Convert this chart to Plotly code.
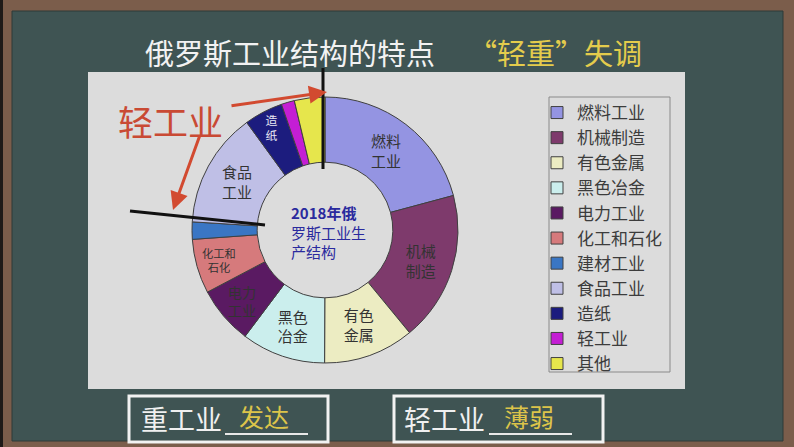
import plotly.graph_objects as go

W, H = 794, 447
FONT = "Noto Sans CJK SC"

categories = ["燃料工业", "机械制造", "有色金属", "黑色冶金", "电力工业", "化工和石化",
              "建材工业", "食品工业", "造纸", "轻工业", "其他"]
values = [20.8, 18.2, 11.0, 10.2, 7.0, 6.6, 2.1, 14.0, 4.7, 1.6, 3.7]
slice_text = ["燃料<br>工业", "机械<br>制造", "有色<br>金属", "黑色<br>冶金", "电力<br>工业",
              "化工和<br>石化", "", "食品<br>工业", "造<br>纸", "", ""]
colors = ["#9494e2", "#7e3a6c", "#ececc2", "#cbeeed", "#5a1a62", "#d67a7c",
          "#3a76c4", "#bfbfe6", "#1c1c7e", "#c41ed4", "#e6e64c"]
text_colors = ["#333333"] * 8 + ["#e8e8f4", "#333333", "#333333"]


def px(x):
    return x / W


def py(y):
    return 1 - y / H


cx, cy, r = 325, 230, 133

fig = go.Figure(go.Pie(
    labels=categories, values=values, text=slice_text,
    textinfo="text", textposition="inside", insidetextorientation="horizontal",
    textfont=dict(size=15, color=text_colors, family=FONT),
    marker=dict(colors=colors, line=dict(color="#404040", width=1)),
    hole=0.51, sort=False, direction="clockwise", rotation=0,
    domain=dict(x=[px(cx - r), px(cx + r)], y=[py(cy + r), py(cy - r)]),
    hoverinfo="label+percent",
))

shapes = [
    dict(type="rect", x0=0, x1=px(3), y0=0, y1=1, fillcolor="#1e1a18", line_width=0, layer="below"),
    dict(type="rect", x0=px(12), x1=px(783), y0=py(441), y1=py(11),
         fillcolor="#3f5453", line=dict(color="#2e3a38", width=1), layer="below"),
    dict(type="rect", x0=px(88), x1=px(685), y0=py(389), y1=py(72),
         fillcolor="#dcdcdc", line_width=0, layer="below"),
    dict(type="rect", x0=px(549), x1=px(670), y0=py(372), y1=py(97),
         fillcolor="rgba(0,0,0,0)", line=dict(color="#8a8a8a", width=1), layer="below"),
    dict(type="rect", x0=px(129), x1=px(328), y0=py(442), y1=py(396),
         fillcolor="rgba(0,0,0,0)", line=dict(color="#f2f2f2", width=3), layer="below"),
    dict(type="rect", x0=px(394), x1=px(603), y0=py(442), y1=py(396),
         fillcolor="rgba(0,0,0,0)", line=dict(color="#f2f2f2", width=3), layer="below"),
    dict(type="line", x0=px(225), x1=px(308), y0=py(434), y1=py(434),
         line=dict(color="#e8e8e8", width=2)),
    dict(type="line", x0=px(489), x1=px(572), y0=py(434), y1=py(434),
         line=dict(color="#e8e8e8", width=2)),
    dict(type="line", x0=px(323), x1=px(323), y0=py(68), y1=py(169),
         line=dict(color="#111111", width=3)),
    dict(type="line", x0=px(130), x1=px(265), y0=py(211), y1=py(225),
         line=dict(color="#111111", width=3)),
]

annotations = [
    dict(x=px(290), y=py(52), text="俄罗斯工业结构的特点", showarrow=False,
         font=dict(size=29, color="#f2f2f2", family=FONT)),
    dict(x=px(555), y=py(52), text="“轻重”失调", showarrow=False,
         font=dict(size=29, color="#e4cc4c", family=FONT)),
    dict(x=px(170), y=py(120), text="轻工业", showarrow=False,
         font=dict(size=35, color="#c94a34", family=FONT)),
    dict(x=px(327), y=py(92), ax=230 - 327, ay=106 - 92, axref="pixel", ayref="pixel",
         text="", showarrow=True, arrowhead=2,
         arrowsize=1.2, arrowwidth=3, arrowcolor="#d24a30"),
    dict(x=px(173), y=py(210), ax=200 - 173, ay=135 - 210, axref="pixel", ayref="pixel",
         text="", showarrow=True, arrowhead=2,
         arrowsize=1.2, arrowwidth=3, arrowcolor="#d24a30"),
    dict(x=px(cx + 3), y=py(232), text="<b>2018年俄</b><br>罗斯工业生<br>产结构",
         showarrow=False, align="left",
         font=dict(size=15, color="#2a2a9e", family=FONT)),
    dict(x=px(181), y=py(418), text="重工业", showarrow=False,
         font=dict(size=27, color="#f0f0f0", family=FONT)),
    dict(x=px(264), y=py(416), text="发达", showarrow=False,
         font=dict(size=25, color="#dcc44a", family=FONT)),
    dict(x=px(444), y=py(418), text="轻工业", showarrow=False,
         font=dict(size=27, color="#f0f0f0", family=FONT)),
    dict(x=px(529), y=py(416), text="薄弱", showarrow=False,
         font=dict(size=25, color="#dcc44a", family=FONT)),
]
for a in annotations:
    a.setdefault("xref", "paper")
    a.setdefault("yref", "paper")
    a.setdefault("xanchor", "center")
    a.setdefault("yanchor", "middle")

fig.update_layout(
    width=W, height=H, margin=dict(l=0, r=0, t=0, b=0),
    paper_bgcolor="#7b5d4b", plot_bgcolor="rgba(0,0,0,0)",
    shapes=shapes, annotations=annotations,
    showlegend=True,
    legend=dict(x=px(537), y=py(95), xanchor="left", yanchor="top",
                bgcolor="rgba(0,0,0,0)", borderwidth=0,
                font=dict(size=17, color="#3c3c3c", family=FONT),
                itemwidth=30, traceorder="normal"),
    font=dict(family=FONT),
)

fig.write_html("out.html")
